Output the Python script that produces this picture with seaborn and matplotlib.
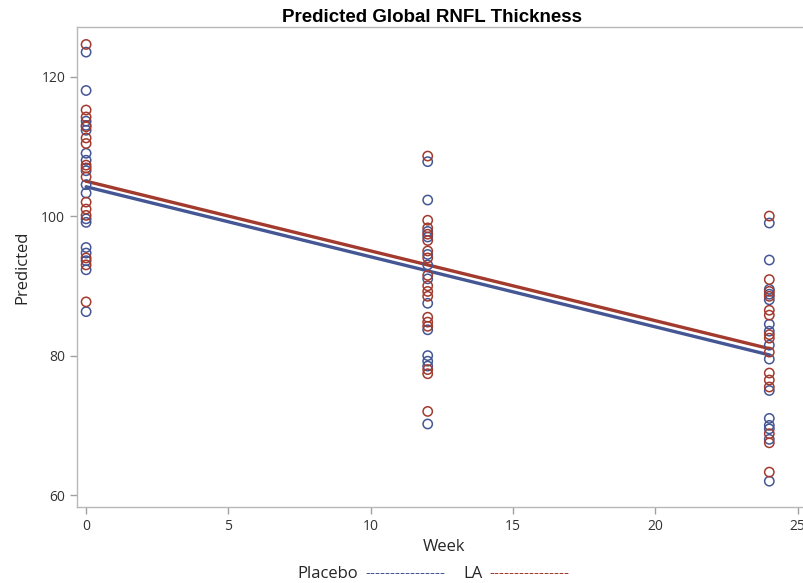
import pandas as pd
import matplotlib
matplotlib.use('Agg')
import matplotlib.pyplot as plt
import seaborn as sns

weeks = [0, 12, 24]

placebo_wk0 = [123.5, 118.0, 113.6, 113.0, 112.3, 109.0, 108.0, 106.5, 104.5, 103.3,
               99.6, 99.1, 95.5, 94.7, 93.6, 92.3, 86.3]
la_wk0 = [124.6, 115.2, 114.2, 112.8, 111.2, 110.4, 107.3, 106.9, 105.6, 102.0,
          101.0, 100.1, 94.0, 93.0, 87.7]
placebo_wk12 = [107.8, 102.3, 97.8, 97.0, 94.5, 93.0, 91.0, 87.5, 83.7, 80.0,
                79.2, 78.5, 70.2]
la_wk12 = [108.6, 99.4, 98.3, 97.4, 96.5, 95.0, 94.0, 91.5, 90.0, 89.2, 88.5,
           85.5, 84.8, 84.2, 78.0, 77.4, 72.0]
placebo_wk24 = [99.0, 93.7, 89.5, 88.8, 88.0, 84.5, 83.5, 81.5, 79.5, 75.0, 71.0,
                70.0, 69.5, 68.0, 62.0]
la_wk24 = [100.0, 90.9, 89.2, 88.5, 86.5, 85.8, 83.0, 82.5, 80.5, 77.5, 76.5,
           75.5, 68.8, 67.5, 63.3]

# fitted lines (start at week 0, end at week 24)
fit_weeks = [0, 24]
placebo_fit = [104.2, 80.1]
la_fit = [105.0, 81.0]

blue = '#445694'
red = '#A23A2E'

rows = []
for grp, lists in [('Placebo', [placebo_wk0, placebo_wk12, placebo_wk24]),
                   ('LA', [la_wk0, la_wk12, la_wk24])]:
    for wk, vals in zip(weeks, lists):
        for v in vals:
            rows.append({'Week': wk, 'Predicted': v, 'Group': grp})
df = pd.DataFrame(rows)

fits = pd.DataFrame({
    'Week': fit_weeks + fit_weeks,
    'Predicted': placebo_fit + la_fit,
    'Group': ['Placebo'] * 2 + ['LA'] * 2,
})

sns.set_style('white')
plt.rcParams['font.family'] = ['Open Sans', 'DejaVu Sans']

fig = plt.figure(figsize=(8.04, 5.83), dpi=100)
ax = fig.add_axes([77 / 804, 1 - 507 / 583, (812 - 77) / 804, (507 - 27) / 583])

palette = {'Placebo': blue, 'LA': red}
for grp in ['Placebo', 'LA']:
    sub = df[df['Group'] == grp]
    sns.scatterplot(data=sub, x='Week', y='Predicted', ax=ax, s=45,
                    facecolors='none', edgecolor=palette[grp], linewidth=1.1,
                    legend=False, zorder=3)
sns.lineplot(data=fits, x='Week', y='Predicted', hue='Group', palette=palette,
             ax=ax, linewidth=2.4, legend=False, zorder=2)

ax.set_xlim(-0.32, 25.5)
ax.set_ylim(58.3, 127.1)
ax.set_xticks([0, 5, 10, 15, 20, 25])
ax.set_yticks([60, 80, 100, 120])
ax.tick_params(axis='both', which='both', direction='out', length=5, width=1,
               color='#a0a0a0', labelsize=10, labelcolor='#333333', bottom=True, left=True)
for s in ax.spines.values():
    s.set_color('#b8b8b8')
    s.set_linewidth(1)

ax.set_xlabel('Week', fontsize=12, labelpad=4)
ax.set_ylabel('Predicted', fontsize=12, labelpad=8)

fig.text(432 / 804, 1 - 18 / 583, 'Predicted Global RNFL Thickness', ha='center',
         va='center', fontsize=13.5, fontweight='bold', color='black',
         family=['Liberation Sans Narrow', 'Liberation Sans', 'DejaVu Sans'])

# legend row
ly = 1 - 574 / 583
fig.text(297 / 804, ly, 'Placebo', fontsize=12, va='center', ha='left')
fig.text(365 / 804, ly, '-' * 16, fontsize=11, va='center', ha='left', color=blue)
fig.text(463 / 804, ly, 'LA', fontsize=12, va='center', ha='left')
fig.text(489 / 804, ly, '-' * 16, fontsize=11, va='center', ha='left', color=red)

fig.savefig('out.png', dpi=100)
